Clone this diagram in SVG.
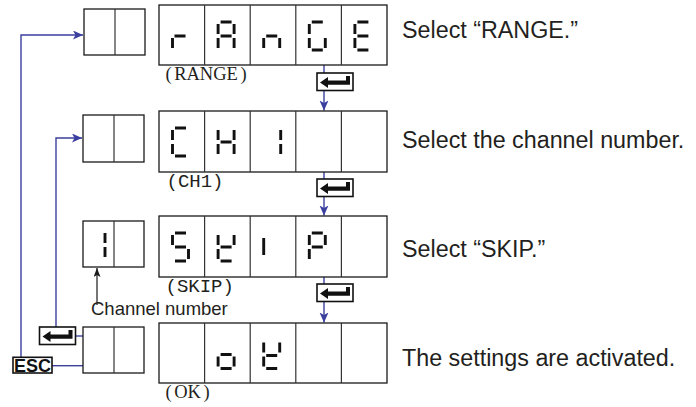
<svg xmlns="http://www.w3.org/2000/svg" xmlns:xlink="http://www.w3.org/1999/xlink" width="696" height="407" viewBox="0 0 696 407">
<style>
.box{fill:#fff;stroke:#1a1a1a;stroke-width:1.3}
.div{stroke:#333;stroke-width:1.2;fill:none}
.seg{stroke:#111;stroke-width:2.9;stroke-linecap:butt;fill:none}
.blue{stroke:#3b3f9e;stroke-width:1.4;fill:none}
.blk{stroke:#1a1a1a;stroke-width:1.2;fill:none}
.note{font-family:"Liberation Sans",Arial,sans-serif;font-size:23.3px;fill:#231f20}
.lbl{font-family:"Liberation Serif","Times New Roman",serif;font-size:18.5px;fill:#231f20}
.mono{font-family:"Liberation Mono","Courier New",monospace;font-size:19px;fill:#231f20}
.cn{font-family:"Liberation Sans",Arial,sans-serif;font-size:18.5px;fill:#231f20}
.esc{font-family:"Liberation Sans",Arial,sans-serif;font-size:19px;font-weight:bold;fill:#111}
</style>
<defs>
<marker id="ab" markerUnits="userSpaceOnUse" markerWidth="11" markerHeight="10" refX="10" refY="4.5" orient="auto">
<path d="M0,0L10,4.5L0,9L2.5,4.5Z" fill="#3b3f9e"/>
</marker>
<marker id="ak" markerUnits="userSpaceOnUse" markerWidth="10" markerHeight="8" refX="9" refY="3.5" orient="auto">
<path d="M0,0L9,3.5L0,7L2,3.5Z" fill="#1a1a1a"/>
</marker>
<g id="enter">
<rect x="0" y="0" width="36" height="17.5" fill="#fff" stroke="#111" stroke-width="1.6"/>
<polygon points="3,9.5 11,4 11,7.5 29,7.5 29,3 33,3 33,11.8 11,11.8 11,15" fill="#111"/>
</g>
</defs>

<g id="connectors">
<path class="blue" d="M21,357V35H83" marker-end="url(#ab)"/>
<path class="blue" d="M56,327V138H82" marker-end="url(#ab)"/>
<path class="blue" d="M76,336H83"/>
<path class="blue" d="M52,365.7H83"/>
<path class="blue" d="M324,65V110.5" marker-end="url(#ab)"/>
<path class="blue" d="M324,172V215.5" marker-end="url(#ab)"/>
<path class="blue" d="M324,277V322.5" marker-end="url(#ab)"/>
<path class="blk" d="M97,305V268" marker-end="url(#ak)"/>
</g>

<g id="row1-small">
<rect class="box" x="84" y="9" width="61" height="46"/>
<path class="div" d="M115,9V55"/>
</g>
<g id="row1-display">
<rect class="box" x="159" y="5" width="228" height="60"/>
<path class="div" d="M204.6,5V65M250.2,5V65M295.8,5V65M341.4,5V65"/>
<path class="seg" transform="translate(172.5,22)" d="M0 16V26M2 14H13"/>
<path class="seg" transform="translate(218.1,22)" d="M2.5 0H13.5M16 2V12M16 16V26M0 16V26M0 2V12M2.5 14H13.5"/>
<path class="seg" transform="translate(263.7,22)" d="M16 16V26M0 16V26M2.5 14H13.5"/>
<path class="seg" transform="translate(309.3,22)" d="M2.5 0H13.5M16 16V26M2.5 28H13.5M0 16V26M0 2V12"/>
<path class="seg" transform="translate(354.9,22)" d="M2.5 0H13.5M2.5 28H13.5M0 16V26M0 2V12M2.5 14H13.5"/>
<text class="lbl" x="165.5" y="80">(<tspan dx="2.5">RANGE</tspan><tspan dx="2.5">)</tspan></text>
</g>
<g id="row1-enter"><use xlink:href="#enter" x="317" y="73"/></g>
<g id="row1-note"><text class="note" x="402" y="38">Select “RANGE.”</text></g>

<g id="row2-small">
<rect class="box" x="83" y="115" width="61" height="47"/>
<path class="div" d="M114,115V162"/>
</g>
<g id="row2-display">
<rect class="box" x="159" y="111" width="228" height="61"/>
<path class="div" d="M204.6,111V172M250.2,111V172M295.8,111V172M341.4,111V172"/>
<path class="seg" transform="translate(172.5,128)" d="M2.5 0H13.5M2.5 28H13.5M0 16V26M0 2V12"/>
<path class="seg" transform="translate(218.1,128)" d="M16 2V12M16 16V26M0 16V26M0 2V12M2.5 14H13.5"/>
<path class="seg" transform="translate(264.7,128)" d="M16 2V12M16 16V26"/>
<text class="mono" x="166.5" y="187.3" font-size="18.3px">(CH1)</text>
</g>
<g id="row2-enter"><use xlink:href="#enter" x="317" y="179"/></g>
<g id="row2-note"><text class="note" x="402" y="148">Select the channel number.</text></g>

<g id="row3-small">
<rect class="box" x="83" y="221" width="61" height="46"/>
<path class="div" d="M114,221V267"/>
<path class="seg" transform="translate(89,231)" d="M16 2V12M16 16V26"/>
</g>
<g id="row3-display">
<rect class="box" x="159" y="216" width="228" height="61"/>
<path class="div" d="M204.6,216V277M250.2,216V277M295.8,216V277M341.4,216V277"/>
<path class="seg" transform="translate(172.5,233)" d="M2.5 0H13.5M0 2V12M2.5 14H13.5M16 16V26M2.5 28H13.5"/>
<path class="seg" transform="translate(218.1,233)" d="M0 2V12M0 16V26M16 2V12M2.5 14H13.5M2.5 28H13.5"/>
<path class="seg" transform="translate(263.7,233)" d="M0 5V22"/>
<path class="seg" transform="translate(309.3,233)" d="M2.5 0H13.5M16 2V12M0 16V26M0 2V12M2.5 14H13.5"/>
<text class="mono" x="165.5" y="291.7" font-size="19.8px">(SKIP)</text>
</g>
<g id="row3-enter"><use xlink:href="#enter" x="317" y="284"/></g>
<g id="row3-note"><text class="note" x="402" y="257">Select “SKIP.”</text></g>
<g id="channel-label"><text class="cn" x="91" y="315">Channel number</text></g>

<g id="row4-small">
<rect class="box" x="83" y="327" width="61" height="46"/>
<path class="div" d="M114,327V373"/>
</g>
<g id="row4-enter"><use xlink:href="#enter" x="39.5" y="327"/></g>
<g id="esc-key">
<rect x="13" y="357.3" width="39" height="15.7" fill="#fff" stroke="#111" stroke-width="1.6"/>
<text class="esc" x="14" y="372" textLength="37" lengthAdjust="spacingAndGlyphs">ESC</text>
</g>
<g id="row4-display">
<rect class="box" x="159" y="323" width="228" height="60"/>
<path class="div" d="M204.6,323V383M250.2,323V383M295.8,323V383M341.4,323V383"/>
<path class="seg" transform="translate(218.1,340.5)" d="M16 16V26M2.5 28H13.5M0 16V26M2.5 14H13.5"/>
<path class="seg" transform="translate(263.7,340.5)" d="M0 2V12M0 16V26M16 2V12M2.5 15H13.5M2.5 28H13.5"/>
<text class="lbl" x="165.5" y="398">(<tspan dx="2.5">OK</tspan><tspan dx="2.5">)</tspan></text>
</g>
<g id="row4-note"><text class="note" x="402" y="366">The settings are activated.</text></g>
</svg>
